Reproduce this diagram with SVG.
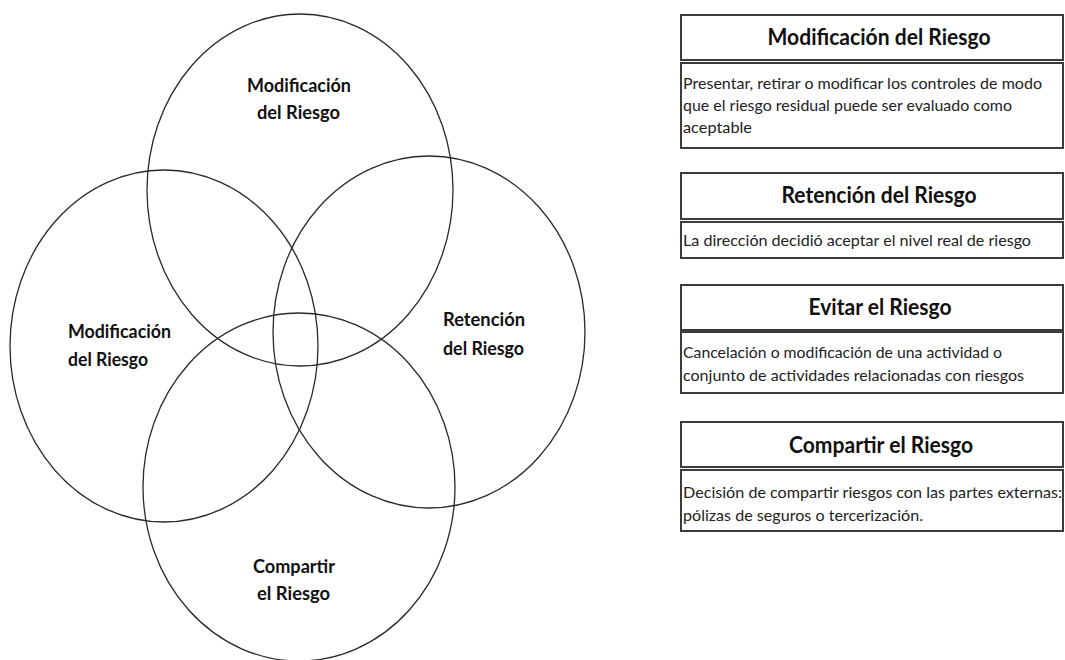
<svg xmlns="http://www.w3.org/2000/svg" width="1065" height="660" viewBox="0 0 1065 660">
<style>
.c{fill:none;stroke:#2a2a2a;stroke-width:1.3}
.lbl{font-family:"Lato","Liberation Sans",sans-serif;font-weight:bold;font-size:19px;fill:#111}
.box{fill:#fff;stroke:#3c3c3c;stroke-width:2}
.hd{font-family:"Lato","Liberation Sans",sans-serif;font-weight:bold;font-size:22px;fill:#111;text-anchor:middle}
.bd{font-family:"Lato","Liberation Sans",sans-serif;font-size:16px;fill:#222}
</style>
<rect width="1065" height="660" fill="#fff"/>
<g id="connectors"></g>
<g id="circle-top">
<ellipse class="c" cx="300" cy="190" rx="153" ry="176"/>
</g>
<g id="circle-left">
<ellipse class="c" cx="164" cy="346" rx="154" ry="176"/>
</g>
<g id="circle-right">
<ellipse class="c" cx="429" cy="332" rx="156" ry="176"/>
</g>
<g id="circle-bottom">
<ellipse class="c" cx="299" cy="487" rx="156" ry="174"/>
</g>
<g id="label-top">
<text class="lbl" x="247" y="92" textLength="104" lengthAdjust="spacingAndGlyphs">Modificación</text>
<text class="lbl" x="257" y="119" textLength="83" lengthAdjust="spacingAndGlyphs">del Riesgo</text>
</g>
<g id="label-left">
<text class="lbl" x="68" y="338" textLength="103" lengthAdjust="spacingAndGlyphs">Modificación</text>
<text class="lbl" x="68" y="366" textLength="80" lengthAdjust="spacingAndGlyphs">del Riesgo</text>
</g>
<g id="label-right">
<text class="lbl" x="443" y="326" textLength="82" lengthAdjust="spacingAndGlyphs">Retención</text>
<text class="lbl" x="443" y="355" textLength="81" lengthAdjust="spacingAndGlyphs">del Riesgo</text>
</g>
<g id="label-bottom">
<text class="lbl" x="253" y="573" textLength="82" lengthAdjust="spacingAndGlyphs">Compartir</text>
<text class="lbl" x="257" y="600" textLength="73" lengthAdjust="spacingAndGlyphs">el Riesgo</text>
</g>
<g id="box-modificacion">
<rect class="box" x="681" y="15" width="382" height="45"/>
<text class="hd" x="879" y="45" textLength="223" lengthAdjust="spacingAndGlyphs">Modificación del Riesgo</text>
<rect class="box" x="681" y="63" width="382" height="85"/>
<text class="bd" x="683" y="89" textLength="359" lengthAdjust="spacingAndGlyphs">Presentar, retirar o modificar los controles de modo</text>
<text class="bd" x="683" y="111" textLength="329" lengthAdjust="spacingAndGlyphs">que el riesgo residual puede ser evaluado como</text>
<text class="bd" x="683" y="133" textLength="69" lengthAdjust="spacingAndGlyphs">aceptable</text>
</g>
<g id="box-retencion">
<rect class="box" x="681" y="173" width="382" height="46"/>
<text class="hd" x="879" y="203" textLength="195" lengthAdjust="spacingAndGlyphs">Retención del Riesgo</text>
<rect class="box" x="681" y="222" width="382" height="36"/>
<text class="bd" x="683" y="246" textLength="348" lengthAdjust="spacingAndGlyphs">La dirección decidió aceptar el nivel real de riesgo</text>
</g>
<g id="box-evitar">
<rect class="box" x="681" y="285" width="382" height="45"/>
<text class="hd" x="880" y="315" textLength="143" lengthAdjust="spacingAndGlyphs">Evitar el Riesgo</text>
<rect class="box" x="681" y="332" width="382" height="61"/>
<text class="bd" x="683" y="358" textLength="319" lengthAdjust="spacingAndGlyphs">Cancelación o modificación de una actividad o</text>
<text class="bd" x="683" y="381" textLength="341" lengthAdjust="spacingAndGlyphs">conjunto de actividades relacionadas con riesgos</text>
</g>
<g id="box-compartir">
<rect class="box" x="681" y="422" width="382" height="45"/>
<text class="hd" x="881" y="453" textLength="184" lengthAdjust="spacingAndGlyphs">Compartir el Riesgo</text>
<rect class="box" x="681" y="470" width="382" height="61"/>
<text class="bd" x="683" y="498" textLength="379" lengthAdjust="spacingAndGlyphs">Decisión de compartir riesgos con las partes externas:</text>
<text class="bd" x="683" y="521" textLength="240" lengthAdjust="spacingAndGlyphs">pólizas de seguros o tercerización.</text>
</g>
</svg>
